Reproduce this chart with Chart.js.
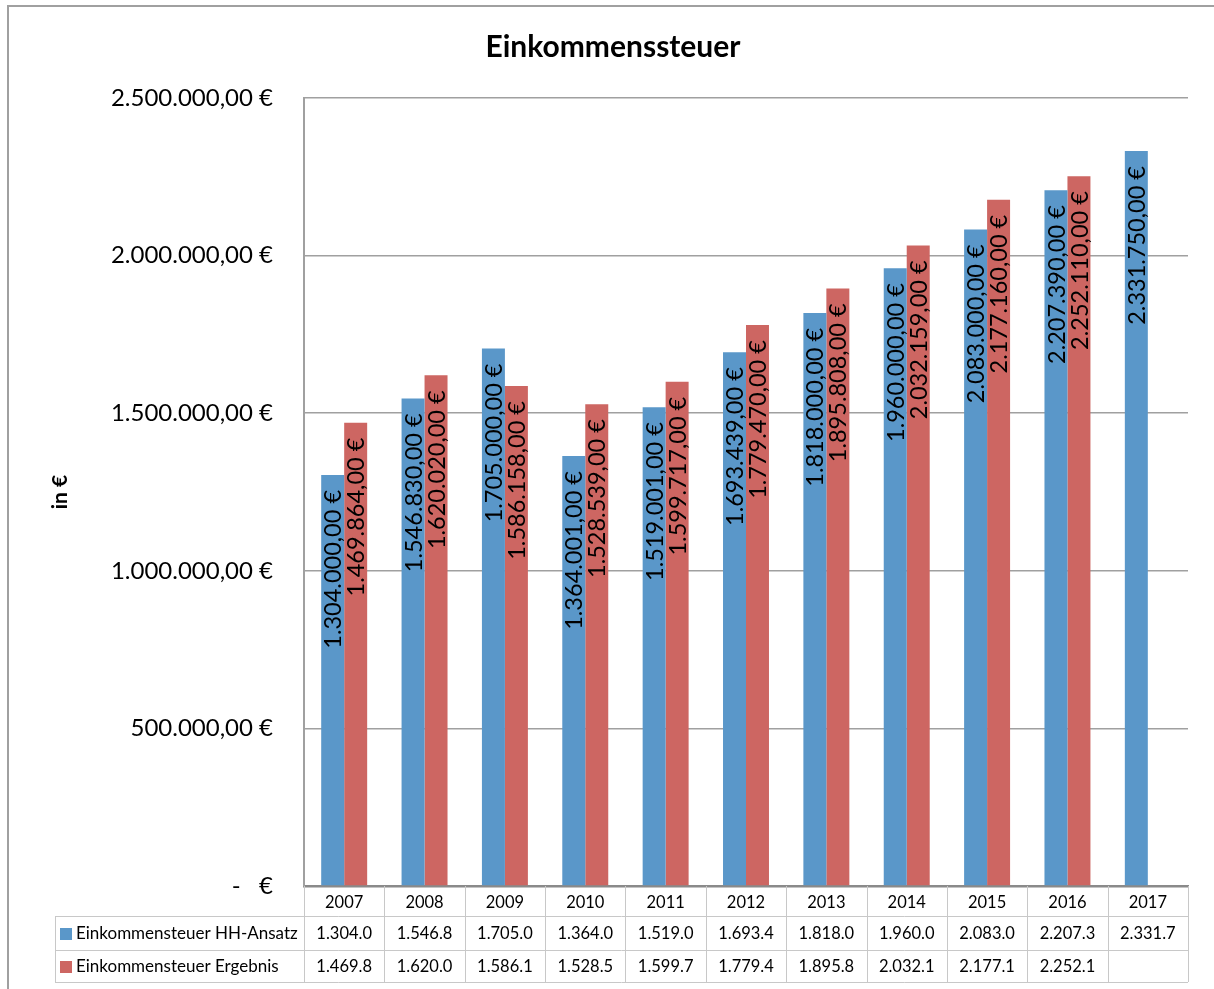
<!DOCTYPE html>
<html>
<head>
<meta charset="utf-8">
<script src="https://cdn.jsdelivr.net/npm/chart.js@4.4.0/dist/chart.umd.min.js"></script>
<style>
  body { margin: 0; background: #fff; }
  #wrap { position: relative; width: 1214px; height: 989px; }
  #frame { position: absolute; left: 7px; top: 5px; width: 1220px; height: 1000px;
           border-top: 2px solid #a0a0a0; border-left: 2px solid #a0a0a0; pointer-events: none; }
  canvas { position: absolute; left: 0; top: 0; }
</style>
</head>
<body>
<div id="wrap">
  <canvas id="chart" width="1214" height="989"></canvas>
  <div id="frame"></div>
</div>
<script>
// --- data ---
const chartTitle = 'Einkommenssteuer';
const years = ['2007', '2008', '2009', '2010', '2011', '2012', '2013', '2014', '2015', '2016', '2017'];
const hhAnsatz = [1304000, 1546830, 1705000, 1364001, 1519001, 1693439, 1818000, 1960000, 2083000, 2207390, 2331750];
const ergebnis = [1469864, 1620020, 1586158, 1528539, 1599717, 1779470, 1895808, 2032159, 2177160, 2252110, null];
const seriesNames = ['Einkommensteuer HH-Ansatz', 'Einkommensteuer Ergebnis'];

const blue = '#5A97C9';
const red = '#CD6662';
const fontFam = 'Lato, "Open Sans", sans-serif';

// 1304000 -> "1.304.000,00 €"
function euro(v) {
    if (v === 0) return '-   €';
    return v.toLocaleString('de-DE', { minimumFractionDigits: 2, maximumFractionDigits: 2 }) + ' €';
}
// Tabellenwert wie im Original: Tausender, abgeschnitten -> "1.469.8"
function tableVal(v) {
    if (v === null) return '';
    const t = Math.floor(v / 100);
    const whole = Math.floor(t / 10);
    return whole.toLocaleString('de-DE') + '.' + (t % 10);
}

// Titel (zentriert auf dem Rahmen, nicht auf der Chart-Breite)
const titlePlugin = {
    id: 'titlePlugin',
    afterDraw(chart) {
        const ctx = chart.ctx;
        ctx.save();
        ctx.font = 'bold 30px ' + fontFam;
        ctx.fillStyle = '#000';
        ctx.textAlign = 'center';
        ctx.textBaseline = 'middle';
        ctx.fillText(chartTitle, 613, 47);
        ctx.restore();
    }
};

// Labels senkrecht in den Balken
const barLabels = {
    id: 'barLabels',
    afterDatasetsDraw(chart) {
        const ctx = chart.ctx;
        ctx.save();
        ctx.font = '23.5px ' + fontFam;
        ctx.fillStyle = '#000';
        ctx.textAlign = 'right';
        ctx.textBaseline = 'middle';
        chart.data.datasets.forEach((ds, i) => {
            chart.getDatasetMeta(i).data.forEach((bar, j) => {
                const v = ds.data[j];
                if (v === null) return;
                ctx.save();
                ctx.translate(bar.x, bar.y + 15);
                ctx.rotate(-Math.PI / 2);
                ctx.fillText(euro(v), 0, 1);
                ctx.restore();
            });
        });
        ctx.restore();
    }
};

// Datentabelle unter der Achse
const dataTable = {
    id: 'dataTable',
    afterDraw(chart) {
        const ctx = chart.ctx;
        const x = chart.scales.x;
        const area = chart.chartArea;
        const rows = [886, 916, 950, 982];
        const leftX = 55;
        const step = (area.right - area.left) / years.length;
        ctx.save();
        ctx.strokeStyle = '#c8c8c8';
        ctx.lineWidth = 1;
        for (let r = 1; r < rows.length; r++) {
            ctx.beginPath();
            ctx.moveTo(leftX, rows[r] + 0.5);
            ctx.lineTo(area.right, rows[r] + 0.5);
            ctx.stroke();
        }
        for (let k = 0; k <= years.length; k++) {
            const px = Math.round(area.left + k * step) + 0.5;
            ctx.beginPath();
            ctx.moveTo(px, rows[0]);
            ctx.lineTo(px, rows[3]);
            ctx.stroke();
        }
        ctx.beginPath();
        ctx.moveTo(leftX + 0.5, rows[1]);
        ctx.lineTo(leftX + 0.5, rows[3]);
        ctx.stroke();

        ctx.fillStyle = '#000';
        ctx.textBaseline = 'middle';
        const series = [hhAnsatz, ergebnis];
        const colors = [blue, red];
        series.forEach((vals, s) => {
            const cy = (rows[s + 1] + rows[s + 2]) / 2 + 1;
            ctx.fillStyle = colors[s];
            ctx.fillRect(60, cy - 6, 12, 12);
            ctx.fillStyle = '#000';
            ctx.textAlign = 'left';
            ctx.font = '17px ' + fontFam;
            ctx.fillText(seriesNames[s], 76, cy);
            ctx.textAlign = 'center';
            ctx.font = '16.5px ' + fontFam;
            vals.forEach((v, j) => {
                ctx.fillText(tableVal(v), x.getPixelForValue(j), cy);
            });
        });
        ctx.restore();
    }
};

new Chart(document.getElementById('chart'), {
    type: 'bar',
    data: {
        labels: years,
        datasets: [
            { label: seriesNames[0], data: hhAnsatz, backgroundColor: blue },
            { label: seriesNames[1], data: ergebnis, backgroundColor: red }
        ]
    },
    options: {
        responsive: false,
        animation: false,
        layout: { padding: { left: 0, right: 26, top: 98, bottom: 0 } },
        datasets: { bar: { categoryPercentage: 0.572, barPercentage: 1.0 } },
        plugins: {
            legend: { display: false },
            tooltip: { enabled: false },
            title: { display: false }
        },
        scales: {
            x: {
                grid: { display: false },
                border: { display: true, color: '#8a8a8a', width: 2.5 },
                ticks: { color: '#000', font: { family: fontFam, size: 16.5 }, padding: -1, maxRotation: 0 },
                afterFit(scale) { scale.height = 103; }
            },
            y: {
                min: 0,
                max: 2500000,
                grid: { color: '#a0a0a0', lineWidth: 1.5, drawTicks: false },
                border: { display: true, color: '#a0a0a0', width: 2 },
                ticks: {
                    stepSize: 500000,
                    padding: 31,
                    color: '#000',
                    font: { family: fontFam, size: 24 },
                    callback: (v) => euro(v)
                },
                title: {
                    display: true,
                    text: 'in €',
                    color: '#000',
                    font: { family: fontFam, size: 21, weight: 'bold', lineHeight: 1.2 },
                    padding: { top: 48, bottom: 0 }
                },
                afterFit(scale) { scale.width = 304; }
            }
        }
    },
    plugins: [barLabels, dataTable, titlePlugin]
});
</script>
</body>
</html>
